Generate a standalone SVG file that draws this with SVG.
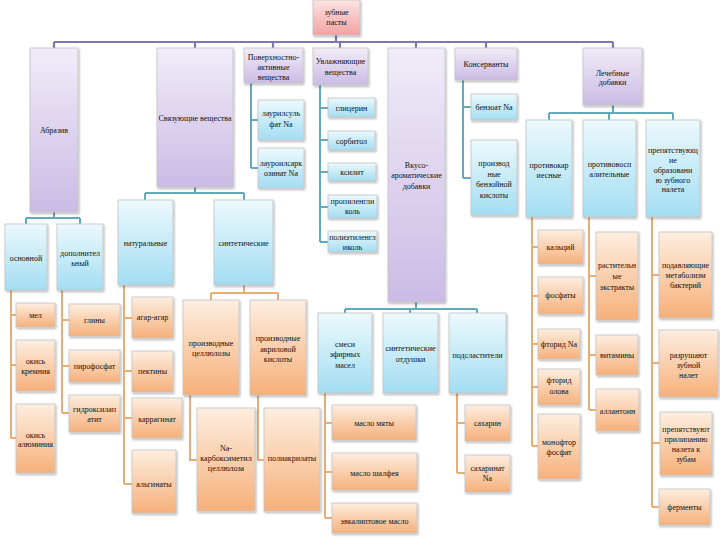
<svg xmlns="http://www.w3.org/2000/svg" width="720" height="540" viewBox="0 0 720 540">
<defs>
<linearGradient id="gRoot" x1="0" y1="0" x2="0" y2="1"><stop offset="0" stop-color="#fce4e4"/><stop offset="1" stop-color="#f2a2a2"/></linearGradient>
<linearGradient id="g1" x1="0" y1="0" x2="0" y2="1"><stop offset="0" stop-color="#f1ecf8"/><stop offset="1" stop-color="#cbbbe5"/></linearGradient>
<linearGradient id="g2" x1="0" y1="0" x2="0" y2="1"><stop offset="0" stop-color="#ecf9fd"/><stop offset="1" stop-color="#a3ddf2"/></linearGradient>
<linearGradient id="g3" x1="0" y1="0" x2="0" y2="1"><stop offset="0" stop-color="#fdeee0"/><stop offset="1" stop-color="#f6b07a"/></linearGradient>
<filter id="sh" x="-20%" y="-20%" width="150%" height="150%"><feDropShadow dx="1" dy="1.5" stdDeviation="0.9" flood-color="#000" flood-opacity="0.3"/></filter>
</defs>
<style>
rect{stroke:#c4c4c4;stroke-width:0.8;filter:url(#sh)}
.r0{fill:url(#gRoot)}
.r1{fill:url(#g1)}
.r2{fill:url(#g2)}
.r3{fill:url(#g3)}
text{font-family:"Liberation Serif","DejaVu Serif",serif;font-size:8px;fill:#111;text-anchor:middle}
.cp{stroke:#7f77ae;stroke-width:2.2;fill:none}
.ct{stroke:#62a9bb;stroke-width:2;fill:none}
.co{stroke:#e6ad77;stroke-width:2;fill:none}
</style>
<g id="connectors">
<path class="cp" d="M336,35V42M54,42H613M54,42V48M195,42V48M273,42V48M340,42V48M416,42V48M486,42V48M613,42V48"/>
<path class="ct" d="M54,212V218M26,218H80M26,218V224M80,218V224"/>
<path class="ct" d="M195,187V193M145,193H244M145,193V200M244,193V200"/>
<path class="ct" d="M251,83V168M251,120H258M251,168H258"/>
<path class="ct" d="M320,85V242M320,108H328M320,140H328M320,172H328M320,207H328M320,242H328"/>
<path class="ct" d="M463,80V178M463,107H471M463,178H471"/>
<path class="ct" d="M613,105V113M549,113H673M549,113V120M609,113V120M673,113V120"/>
<path class="ct" d="M416,302V309M345,309H477M345,309V313M410,309V313M477,309V313"/>
<path class="co" d="M11,290V438M11,315H16M11,365H16M11,438H16"/>
<path class="co" d="M62,290V413M62,320H69M62,366H69M62,413H69"/>
<path class="co" d="M124,285V484M124,318H132M124,371H132M124,418H132M124,484H132"/>
<path class="co" d="M244,285V293M211,293H278M211,293V300M278,293V300"/>
<path class="co" d="M190,395V460H197"/>
<path class="co" d="M258,395V460H264"/>
<path class="co" d="M325,393V518M325,423H332M325,472H332M325,518H332"/>
<path class="co" d="M457,393V473M457,423H465M457,473H465"/>
<path class="co" d="M532,217V446M532,247H538M532,296H538M532,344H538M532,387H538M532,446H538"/>
<path class="co" d="M589,217V410M589,276H596M589,355H596M589,410H596"/>
<path class="co" d="M652,217V507M652,275H659M652,363H659M652,443H660M652,507H659"/>
</g>
<g id="n-root"><rect class="r0" x="313" y="0" width="47" height="35"/><text x="336.5" y="15">зубные</text><text x="336.5" y="25">пасты</text></g>
<g id="n-abraziv"><rect class="r1" x="30" y="48" width="48" height="164"/><text x="54" y="133">Абразив</text></g>
<g id="n-svyaz"><rect class="r1" x="157" y="48" width="76" height="139"/><text x="195" y="121">Связующие вещества</text></g>
<g id="n-pav"><rect class="r1" x="244" y="48" width="59" height="35"/><text x="273.5" y="60">Поверхностно-</text><text x="273.5" y="70">активные</text><text x="273.5" y="80">вещества</text></g>
<g id="n-uvl"><rect class="r1" x="313" y="48" width="55" height="37"/><text x="340.5" y="64">Увлажняющие</text><text x="340.5" y="75">вещества</text></g>
<g id="n-vkus"><rect class="r1" x="388" y="48" width="57" height="254"/><text x="416.5" y="168">Вкусо-</text><text x="416.5" y="178">ароматические</text><text x="416.5" y="189">добавки</text></g>
<g id="n-kons"><rect class="r1" x="455" y="48" width="62" height="32"/><text x="486" y="67">Консерванты</text></g>
<g id="n-lech"><rect class="r1" x="583" y="48" width="59" height="57"/><text x="612.5" y="76">Лечебные</text><text x="612.5" y="85">добавки</text></g>
<g id="n-osn"><rect class="r2" x="5" y="224" width="42" height="66"/><text x="26" y="261">основной</text></g>
<g id="n-dop"><rect class="r2" x="57" y="224" width="46" height="66"/><text x="80" y="256">дополнител</text><text x="80" y="266">ьный</text></g>
<g id="n-nat"><rect class="r2" x="118" y="200" width="55" height="85"/><text x="145.5" y="246">натуральные</text></g>
<g id="n-sint"><rect class="r2" x="214" y="200" width="59" height="85"/><text x="243.5" y="246">синтетические</text></g>
<g id="n-laurs"><rect class="r2" x="258" y="100" width="46" height="40"/><text x="281" y="116">лаурилсуль</text><text x="281" y="127">фат Na</text></g>
<g id="n-lauroil"><rect class="r2" x="258" y="148" width="46" height="40"/><text x="281" y="166">лауроилсарк</text><text x="281" y="176">озинат Na</text></g>
<g id="n-glic"><rect class="r2" x="328" y="98" width="47" height="19"/><text x="351.5" y="110.5">глицерин</text></g>
<g id="n-sorb"><rect class="r2" x="328" y="131" width="47" height="19"/><text x="351.5" y="143.5">сорбитол</text></g>
<g id="n-ksil"><rect class="r2" x="328" y="163" width="48" height="18"/><text x="352" y="175">ксилит</text></g>
<g id="n-propil"><rect class="r2" x="328" y="195" width="49" height="23"/><text x="352.5" y="204">пропиленгли</text><text x="352.5" y="214">коль</text></g>
<g id="n-polieth"><rect class="r2" x="328" y="231" width="49" height="21"/><text x="352.5" y="240">полиэтиленгл</text><text x="352.5" y="249.5">иколь</text></g>
<g id="n-benz"><rect class="r2" x="471" y="94" width="46" height="26"/><text x="494" y="110">бензоат Na</text></g>
<g id="n-proizbenz"><rect class="r2" x="471" y="140" width="46" height="75"/><text x="494" y="166">производ</text><text x="494" y="176.5">ные</text><text x="494" y="187">бензойной</text><text x="494" y="197.5">кислоты</text></g>
<g id="n-protkar"><rect class="r2" x="526" y="120" width="46" height="97"/><text x="549" y="168">противокар</text><text x="549" y="178">иесные</text></g>
<g id="n-protvosp"><rect class="r2" x="583" y="120" width="53" height="97"/><text x="609.5" y="167">противовосп</text><text x="609.5" y="177">алительные</text></g>
<g id="n-prep"><rect class="r2" x="646" y="120" width="54" height="97"/><text x="673" y="153">препятствующ</text><text x="673" y="163">ие</text><text x="673" y="173">образовани</text><text x="673" y="182.5">ю зубного</text><text x="673" y="192">налета</text></g>
<g id="n-smesi"><rect class="r2" x="318" y="313" width="54" height="80"/><text x="345" y="347">смеси</text><text x="345" y="357">эфирных</text><text x="345" y="368">масел</text></g>
<g id="n-otdush"><rect class="r2" x="383" y="313" width="55" height="80"/><text x="410.5" y="351">синтетические</text><text x="410.5" y="362">отдушки</text></g>
<g id="n-podsl"><rect class="r2" x="449" y="313" width="57" height="80"/><text x="477.5" y="358">подсластители</text></g>
<g id="n-mel"><rect class="r3" x="16" y="303" width="39" height="24"/><text x="35.5" y="318">мел</text></g>
<g id="n-okkr"><rect class="r3" x="16" y="340" width="39" height="51"/><text x="35.5" y="364">окись</text><text x="35.5" y="374">кремния</text></g>
<g id="n-okal"><rect class="r3" x="16" y="404" width="39" height="69"/><text x="35.5" y="438">окись</text><text x="35.5" y="447">алюминия</text></g>
<g id="n-gliny"><rect class="r3" x="69" y="304" width="51" height="32"/><text x="94.5" y="323">глины</text></g>
<g id="n-pirof"><rect class="r3" x="69" y="350" width="51" height="32"/><text x="94.5" y="369">пирофосфат</text></g>
<g id="n-gidr"><rect class="r3" x="69" y="395" width="51" height="37"/><text x="94.5" y="412">гидроксилап</text><text x="94.5" y="422">атит</text></g>
<g id="n-agar"><rect class="r3" x="132" y="297" width="41" height="41"/><text x="152.5" y="320">агар-агар</text></g>
<g id="n-pekt"><rect class="r3" x="132" y="351" width="41" height="41"/><text x="152.5" y="374">пектины</text></g>
<g id="n-karr"><rect class="r3" x="132" y="398" width="50" height="40"/><text x="157" y="422">каррагинат</text></g>
<g id="n-alg"><rect class="r3" x="132" y="450" width="44" height="63"/><text x="154" y="487">альгинаты</text></g>
<g id="n-proizcell"><rect class="r3" x="183" y="300" width="56" height="95"/><text x="211" y="346">производные</text><text x="211" y="356">целлюлозы</text></g>
<g id="n-proizakr"><rect class="r3" x="250" y="300" width="56" height="95"/><text x="278" y="341">производные</text><text x="278" y="352">акриловой</text><text x="278" y="362">кислоты</text></g>
<g id="n-nakmc"><rect class="r3" x="197" y="408" width="58" height="103"/><text x="226" y="451">Na-</text><text x="226" y="461">карбоксиметил</text><text x="226" y="471">целлюлоза</text></g>
<g id="n-poliakr"><rect class="r3" x="264" y="408" width="56" height="103"/><text x="292" y="461">полиакрилаты</text></g>
<g id="n-myata"><rect class="r3" x="332" y="405" width="84" height="35"/><text x="374" y="426">масло мяты</text></g>
<g id="n-shalf"><rect class="r3" x="332" y="453" width="85" height="37"/><text x="374.5" y="476">масло шалфея</text></g>
<g id="n-evk"><rect class="r3" x="332" y="503" width="85" height="30"/><text x="374.5" y="524">эвкалиптовое масло</text></g>
<g id="n-sah"><rect class="r3" x="465" y="405" width="45" height="36"/><text x="487.5" y="426">сахарин</text></g>
<g id="n-sahna"><rect class="r3" x="465" y="455" width="45" height="37"/><text x="487.5" y="471">сахаринат</text><text x="487.5" y="481">Na</text></g>
<g id="n-kalc"><rect class="r3" x="538" y="230" width="45" height="34"/><text x="560.5" y="250">кальций</text></g>
<g id="n-fosf"><rect class="r3" x="538" y="277" width="45" height="37"/><text x="560.5" y="298">фосфаты</text></g>
<g id="n-ftna"><rect class="r3" x="538" y="329" width="42" height="30"/><text x="559" y="347">фторид Na</text></g>
<g id="n-ftol"><rect class="r3" x="538" y="369" width="42" height="36"/><text x="559" y="383">фторид</text><text x="559" y="394">олова</text></g>
<g id="n-monof"><rect class="r3" x="538" y="414" width="42" height="65"/><text x="559" y="445">монофтор</text><text x="559" y="455">фосфат</text></g>
<g id="n-rast"><rect class="r3" x="596" y="232" width="42" height="88"/><text x="617" y="268">растительн</text><text x="617" y="279">ые</text><text x="617" y="290">экстракты</text></g>
<g id="n-vit"><rect class="r3" x="596" y="335" width="42" height="40"/><text x="617" y="358">витамины</text></g>
<g id="n-allant"><rect class="r3" x="596" y="389" width="43" height="42"/><text x="617.5" y="414">аллантоин</text></g>
<g id="n-podavl"><rect class="r3" x="659" y="232" width="53" height="86"/><text x="685.5" y="268">подавляющие</text><text x="685.5" y="278">метаболизм</text><text x="685.5" y="288">бактерий</text></g>
<g id="n-razr"><rect class="r3" x="659" y="330" width="59" height="67"/><text x="688.5" y="358">разрушают</text><text x="688.5" y="368">зубной</text><text x="688.5" y="378">налет</text></g>
<g id="n-prilip"><rect class="r3" x="660" y="412" width="52" height="63"/><text x="686" y="432">препятствуют</text><text x="686" y="442">прилипанию</text><text x="686" y="452">налета к</text><text x="686" y="462">зубам</text></g>
<g id="n-ferm"><rect class="r3" x="659" y="489" width="51" height="36"/><text x="684.5" y="510">ферменты</text></g>
</svg>
